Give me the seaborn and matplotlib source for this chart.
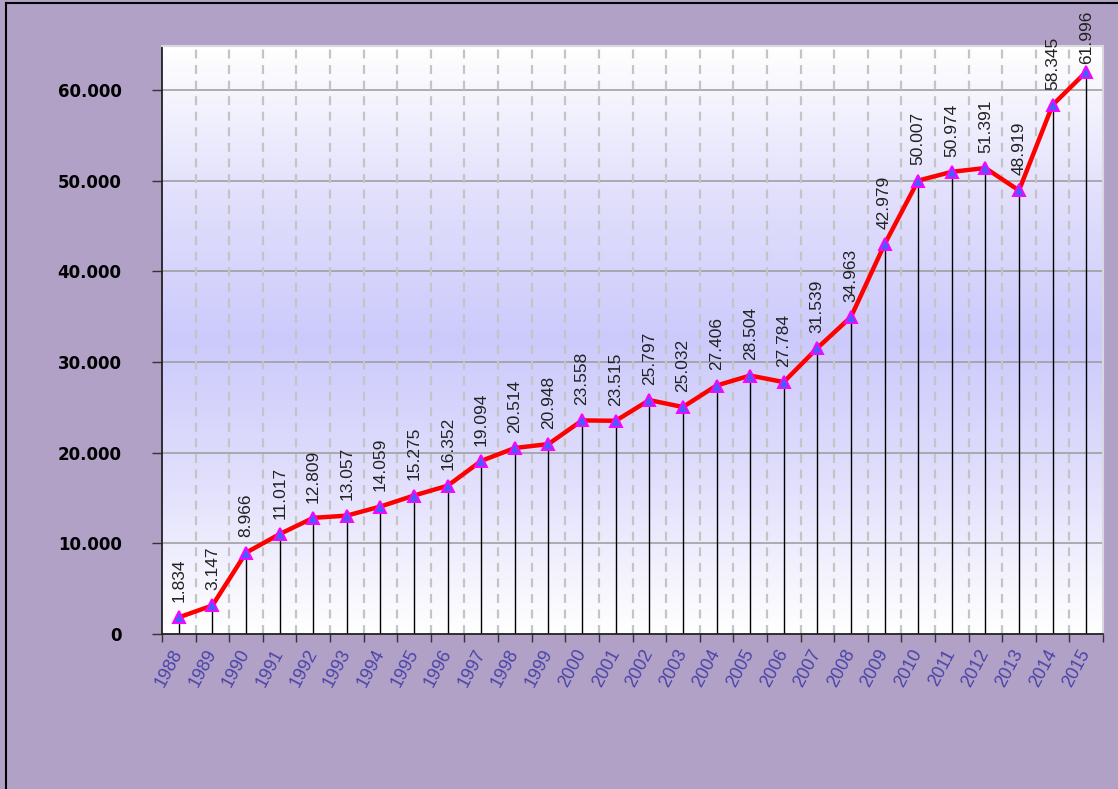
import numpy as np
import pandas as pd
import matplotlib
matplotlib.use('Agg')
import matplotlib.pyplot as plt
from matplotlib.colors import LinearSegmentedColormap
from matplotlib.lines import Line2D
import seaborn as sns

# Data
years = [str(y) for y in range(1988, 2016)]
values = [1834, 3147, 8966, 11017, 12809, 13057, 14059, 15275, 16352, 19094,
          20514, 20948, 23558, 23515, 25797, 25032, 27406, 28504, 27784, 31539,
          34963, 42979, 50007, 50974, 51391, 48919, 58345, 61996]
yticks = [0, 10000, 20000, 30000, 40000, 50000, 60000]

def dotfmt(v):
    return f'{v:,}'.replace(',', '.')

plt.rcParams.update({
    'font.family': ['Liberation Sans', 'DejaVu Sans'],
    'figure.facecolor': '#b1a1c7',
})

df = pd.DataFrame({'year': years, 'value': values})
pos = np.arange(len(years))

fig = plt.figure(figsize=(11.18, 7.89), dpi=100)
ax = fig.add_axes([162/1118, 1 - 634/789, (1103 - 162)/1118, (634 - 46)/789])

ymax = 64850
xlo, xhi = -0.5, len(years) - 0.5

# ── gradient background ─────────────────────────────────────────────────────
grad_cmap = LinearSegmentedColormap.from_list(
    'bg', ['#ffffff', '#e2e0fc', '#cccafb', '#e2e0fc', '#ffffff'])
grad = np.linspace(0, 1, 256).reshape(-1, 1)
ax.imshow(grad, cmap=grad_cmap, extent=[xlo, xhi, 0, ymax], aspect='auto',
          origin='lower', zorder=0)

# grid lines
for y in yticks[1:]:
    ax.axhline(y, color='#9a9a9a', lw=1.1, zorder=1)
for b in np.arange(xlo + 1, xhi, 1):
    ax.axvline(b, color='#c4c4c4', lw=1.6, ls=(0, (4, 3)), zorder=1)

# drop lines
ax.vlines(pos, 0, values, color='black', lw=1, zorder=2)

# main line
sns.lineplot(x=pos, y=values, ax=ax, color='#ff0000', lw=3.2, zorder=3,
             marker='^', markersize=9, markerfacecolor='#3f62ff',
             markeredgecolor='#ff00ff', markeredgewidth=1.4)

# value labels (the highest one is squeezed down to stay inside the figure)
for x, v in zip(pos, values):
    off = 6 if v > 60000 else 11
    ax.annotate(dotfmt(v), (x, v), xytext=(0, off), textcoords='offset points',
                rotation=90, ha='center', va='bottom', fontsize=12.5,
                color='#222222', annotation_clip=False)

ax.set_xlim(xlo, xhi)
ax.set_ylim(0, ymax)
ax.set_xlabel('')
ax.set_ylabel('')

# x ticks: labels at centers, tick marks at boundaries
ax.set_xticks(pos)
ax.set_xticklabels(years, rotation=62, ha='right', va='center',
                   rotation_mode='anchor', color='#4a44a8', fontsize=13)
ax.tick_params(axis='x', which='major', length=0, pad=12)
ax.set_xticks(np.arange(xlo, xhi + 0.01, 1), minor=True)
ax.tick_params(axis='x', which='minor', length=6, width=1, color='#333333',
               direction='out')

ax.set_yticks(yticks)
ax.set_yticklabels([dotfmt(t) for t in yticks], fontweight='bold',
                   fontsize=12, color='black', family='DejaVu Sans')
ax.tick_params(axis='y', length=7, width=1, color='#333333', pad=22)

for s in ['left', 'bottom']:
    ax.spines[s].set_color('#222222')
    ax.spines[s].set_linewidth(1.3)
for s in ['top', 'right']:
    ax.spines[s].set_color('#d8d8e0')
    ax.spines[s].set_linewidth(1.5)

# figure frame lines (top and left)
fig.add_artist(Line2D([6/1118, 1], [1 - 3/789, 1 - 3/789], color='black',
                      lw=1.5, transform=fig.transFigure))
fig.add_artist(Line2D([6/1118, 6/1118], [0, 1 - 3/789], color='black',
                      lw=1.5, transform=fig.transFigure))

fig.savefig('out.png', dpi=100)
